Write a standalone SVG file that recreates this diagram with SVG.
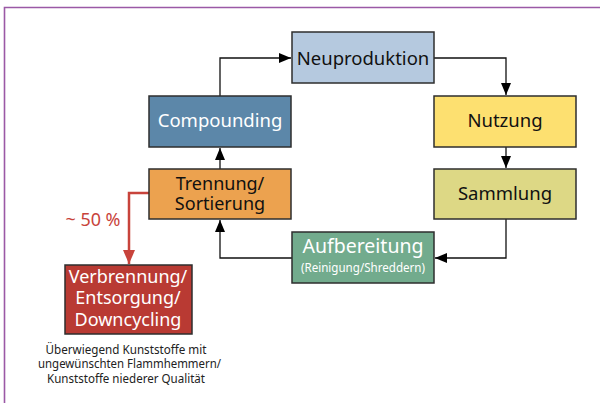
<svg xmlns="http://www.w3.org/2000/svg" width="600" height="403" viewBox="0 0 600 403">
<defs>
<style>
.box{stroke:#2e2e2e;stroke-width:1.5}
.t{font-family:"Noto Sans","Open Sans",sans-serif;font-size:18.5px;text-anchor:middle}
.m{font-family:"Noto Sans","Open Sans",sans-serif;font-size:18px;text-anchor:middle}
.s{font-family:"Noto Sans","Open Sans",sans-serif;font-size:13px;text-anchor:middle}
.con{fill:none;stroke:#111;stroke-width:1.3}
.red{fill:none;stroke:#c8433b;stroke-width:2.5}
</style>
<marker id="ah" viewBox="0 0 12 10" refX="12" refY="5" markerWidth="12" markerHeight="10" markerUnits="userSpaceOnUse" orient="auto">
<path d="M0,0 L12,5 L0,10 z" fill="#000"/>
</marker>
<marker id="ahr" viewBox="0 0 14 12" refX="14" refY="6" markerWidth="14" markerHeight="12" markerUnits="userSpaceOnUse" orient="auto">
<path d="M0,0 L14,6 L0,12 z" fill="#c8433b"/>
</marker>
</defs>
<rect width="600" height="403" fill="#fff"/>
<path d="M4.5,403 V7.5 H600" fill="none" stroke="#9b59a6" stroke-width="1.6"/>

<g id="connectors">
<path class="con" d="M220,96 V58 H291" marker-end="url(#ah)"/>
<path class="con" d="M434,58 H506 V95" marker-end="url(#ah)"/>
<path class="con" d="M506,147 V168" marker-end="url(#ah)"/>
<path class="con" d="M506,219 V258 H435" marker-end="url(#ah)"/>
<path class="con" d="M292,258 H220 V220" marker-end="url(#ah)"/>
<path class="con" d="M220,169 V148" marker-end="url(#ah)"/>
<path class="red" d="M149,193 H129 V264" marker-end="url(#ahr)"/>
<text x="93" y="226" class="m" fill="#c8433b" textLength="55" lengthAdjust="spacingAndGlyphs">~ 50 %</text>
</g>

<g id="neuproduktion">
<rect class="box" x="292" y="32" width="142" height="51" fill="#b5c9df"/>
<text class="t" x="363" y="65" fill="#111">Neuproduktion</text>
</g>
<g id="compounding">
<rect class="box" x="149" y="96" width="142" height="51" fill="#5c87a9"/>
<text class="t" x="220" y="127" fill="#fff">Compounding</text>
</g>
<g id="nutzung">
<rect class="box" x="434" y="96" width="142" height="51" fill="#fde070"/>
<text class="t" x="505" y="127" fill="#111">Nutzung</text>
</g>
<g id="sammlung">
<rect class="box" x="434" y="169" width="142" height="50" fill="#ddd885"/>
<text class="t" x="505" y="200" fill="#111">Sammlung</text>
</g>
<g id="trennung">
<rect class="box" x="149" y="169" width="142" height="50" fill="#eca24f"/>
<text class="m" x="220" y="190" fill="#111">Trennung/</text>
<text class="m" x="220" y="210" fill="#111">Sortierung</text>
</g>
<g id="aufbereitung">
<rect class="box" x="292" y="232" width="142" height="51" fill="#72ab8d"/>
<text class="t" x="363" y="253" fill="#fff" style="font-size:19.5px">Aufbereitung</text>
<text class="s" x="363" y="272" fill="#fff" textLength="124" lengthAdjust="spacingAndGlyphs">(Reinigung/Shreddern)</text>
</g>
<g id="verbrennung">
<rect class="box" x="65" y="265" width="127" height="69" fill="#b93a33"/>
<text class="m" x="128" y="283" fill="#fff">Verbrennung/</text>
<text class="m" x="128" y="304" fill="#fff">Entsorgung/</text>
<text class="m" x="128" y="326" fill="#fff">Downcycling</text>
</g>
<g id="caption">
<text class="s" x="126" y="354" fill="#222" textLength="161" lengthAdjust="spacingAndGlyphs">Überwiegend Kunststoffe mit</text>
<text class="s" x="129.5" y="368" fill="#222" textLength="183" lengthAdjust="spacingAndGlyphs">ungewünschten Flammhemmern/</text>
<text class="s" x="126" y="383" fill="#222" textLength="158" lengthAdjust="spacingAndGlyphs">Kunststoffe niederer Qualität</text>
</g>
</svg>
